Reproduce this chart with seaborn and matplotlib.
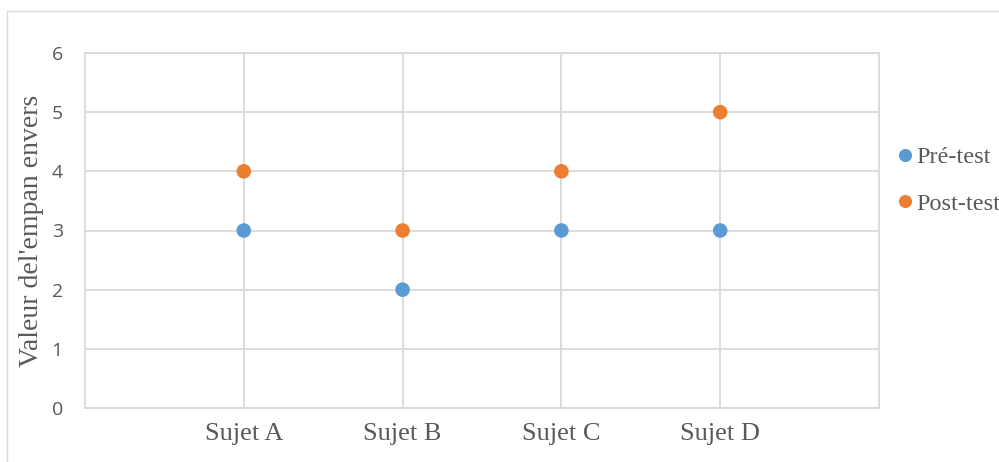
import pandas as pd
import matplotlib.pyplot as plt
import seaborn as sns
from matplotlib.patches import Rectangle

# Data
sujets = ["Sujet A", "Sujet B", "Sujet C", "Sujet D"]
pre_test = [3, 2, 3, 3]
post_test = [4, 3, 4, 5]
series = ["Pré-test", "Post-test"]
colors = ["#5B9BD5", "#ED7D31"]

positions = list(range(1, len(sujets) + 1))
df = pd.DataFrame({
    "x": positions * 2,
    "valeur": pre_test + post_test,
    "serie": [series[0]] * len(sujets) + [series[1]] * len(sujets),
})

sns.set_style("white")
plt.rcParams["font.family"] = ["Liberation Serif", "DejaVu Serif"]

fig = plt.figure(figsize=(9.99, 4.62), dpi=100)
ax = fig.add_axes([85 / 999, 1 - 408 / 462, (879 - 85) / 999, (408 - 53) / 462])

# outer chart frame
fig.patches.append(Rectangle((7 / 999, -0.1), 1.2, 1 - 11 / 462 + 0.1,
                             transform=fig.transFigure, fill=False,
                             edgecolor="#D9D9D9", linewidth=1, zorder=0))

sns.scatterplot(data=df, x="x", y="valeur", hue="serie", palette=colors,
                s=110, edgecolor="none", ax=ax, zorder=3)

ax.set_xlim(0, 5)
ax.set_ylim(0, 6)
ax.set_xticks(positions)
ax.set_xticklabels(sujets, fontsize=19, color="#595959")
ax.set_yticks(range(0, 7))
ax.set_yticklabels([str(v) for v in range(0, 7)], fontsize=14, color="#595959",
                   family="Open Sans")
ax.tick_params(axis="x", length=0, pad=11)
ax.tick_params(axis="y", length=0, pad=16)
ax.grid(True, color="#D9D9D9", linewidth=1.3)
for s in ax.spines.values():
    s.set_color("#D9D9D9")
    s.set_linewidth(1.3)
ax.set_xlabel("")
ax.set_ylabel("Valeur del'empan envers", fontsize=20, color="#595959")
ax.yaxis.set_label_coords(-0.052, 0.5)

leg = ax.legend(loc="center left", bbox_to_anchor=(896 / 999, 1 - 180.5 / 462),
                bbox_transform=fig.transFigure, frameon=False,
                fontsize=17.5, handlelength=0.75, handletextpad=0.1,
                labelspacing=1.0, borderpad=0, borderaxespad=0, markerscale=0.9)
for t in leg.get_texts():
    t.set_color("#595959")

fig.savefig("out.png", dpi=100)
